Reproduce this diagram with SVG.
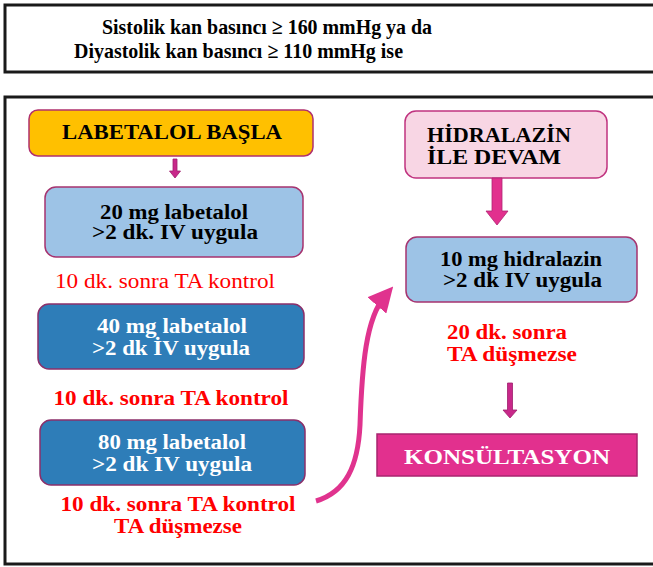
<svg xmlns="http://www.w3.org/2000/svg" width="653" height="567" viewBox="0 0 653 567" font-family="'Liberation Serif', 'DejaVu Serif', 'Times New Roman', serif">
<defs>
<style>
.frame{fill:#fff;stroke:#1a1a1a;stroke-width:3}
.t{font-family:'Liberation Serif','DejaVu Serif',serif;font-weight:bold}
.blk{fill:#000}
.wht{fill:#fff}
.red{fill:#ff0000}
.nb{font-weight:normal}
.lb{fill:#9dc3e6;stroke:#a6336f;stroke-width:1.5}
.db{fill:#2e7db8;stroke:#8c2f6a;stroke-width:1.5}
.arr{fill:#c8288a;stroke:#9e1e6c;stroke-width:0.8}
</style>
<marker id="head" markerWidth="5" markerHeight="5" refX="2.5" refY="2.5" orient="auto" markerUnits="strokeWidth">
<path d="M0,0 L5,2.5 L0,5 Z" fill="#e0338e"/>
</marker>
</defs>
<rect x="0" y="0" width="653" height="567" fill="#fff"/>
<g id="header">
<rect class="frame" x="5" y="5" width="660" height="67"/>
<text class="t blk" x="102" y="34" font-size="21" textLength="330" lengthAdjust="spacingAndGlyphs">Sistolik kan basıncı ≥ 160 mmHg ya da</text>
<text class="t blk" x="74" y="58" font-size="21" textLength="329" lengthAdjust="spacingAndGlyphs">Diyastolik kan basıncı ≥ 110 mmHg ise</text>
</g>
<rect class="frame" x="5" y="97" width="660" height="467"/>
<g id="labetalol-basla">
<rect x="29" y="110" width="284" height="46" rx="9" fill="#ffc000" stroke="#b0306e" stroke-width="1.5"/>
<text class="t blk" x="172" y="139" font-size="21" text-anchor="middle" textLength="220" lengthAdjust="spacingAndGlyphs">LABETALOL BAŞLA</text>
</g>
<g id="labetalol-20">
<rect class="lb" x="45" y="187" width="258" height="70" rx="11"/>
<text class="t blk" x="174" y="219" font-size="20" text-anchor="middle" textLength="148" lengthAdjust="spacingAndGlyphs">20 mg labetalol</text>
<text class="t blk" x="175" y="239" font-size="20" text-anchor="middle" textLength="166" lengthAdjust="spacingAndGlyphs">&gt;2 dk. IV uygula</text>
</g>
<g id="kontrol-1">
<text class="t red nb" x="165" y="288" font-size="20" text-anchor="middle" textLength="220" lengthAdjust="spacingAndGlyphs">10 dk. sonra TA kontrol</text>
</g>
<g id="labetalol-40">
<rect class="db" x="38" y="304" width="266" height="65" rx="11"/>
<text class="t wht" x="172" y="333" font-size="20" text-anchor="middle" textLength="150" lengthAdjust="spacingAndGlyphs">40 mg labetalol</text>
<text class="t wht" x="171" y="355" font-size="20" text-anchor="middle" textLength="158" lengthAdjust="spacingAndGlyphs">&gt;2 dk İV uygula</text>
</g>
<g id="kontrol-2">
<text class="t red" x="171" y="405" font-size="20" text-anchor="middle" textLength="235" lengthAdjust="spacingAndGlyphs">10 dk. sonra TA kontrol</text>
</g>
<g id="labetalol-80">
<rect class="db" x="40" y="420" width="265" height="65" rx="11"/>
<text class="t wht" x="172" y="449" font-size="20" text-anchor="middle" textLength="148" lengthAdjust="spacingAndGlyphs">80 mg labetalol</text>
<text class="t wht" x="172" y="471" font-size="20" text-anchor="middle" textLength="160" lengthAdjust="spacingAndGlyphs">&gt;2 dk IV uygula</text>
</g>
<g id="kontrol-3">
<text class="t red" x="178" y="511" font-size="20" text-anchor="middle" textLength="235" lengthAdjust="spacingAndGlyphs">10 dk. sonra TA kontrol</text>
<text class="t red" x="178" y="533" font-size="20" text-anchor="middle" textLength="128" lengthAdjust="spacingAndGlyphs">TA düşmezse</text>
</g>
<g id="hidralazin-devam">
<rect x="405" y="111" width="202" height="67" rx="11" fill="#f8d6e4" stroke="#c0337f" stroke-width="1.5"/>
<text class="t blk" x="427" y="142" font-size="20" textLength="144" lengthAdjust="spacingAndGlyphs">HİDRALAZİN</text>
<text class="t blk" x="427" y="164" font-size="20" textLength="134" lengthAdjust="spacingAndGlyphs">İLE DEVAM</text>
</g>
<g id="hidralazin-10">
<rect class="lb" x="406" y="237" width="231" height="65" rx="11"/>
<text class="t blk" x="440" y="266" font-size="20" textLength="162" lengthAdjust="spacingAndGlyphs">10 mg hidralazin</text>
<text class="t blk" x="443" y="287" font-size="20" textLength="159" lengthAdjust="spacingAndGlyphs">&gt;2 dk IV uygula</text>
</g>
<g id="kontrol-4">
<text class="t red" x="447" y="339" font-size="20" textLength="120" lengthAdjust="spacingAndGlyphs">20 dk. sonra</text>
<text class="t red" x="447" y="361" font-size="20" textLength="130" lengthAdjust="spacingAndGlyphs">TA düşmezse</text>
</g>
<g id="konsultasyon">
<rect x="377" y="434" width="260" height="42" fill="#e2308e" stroke="#a8246f" stroke-width="1.5"/>
<text class="t wht" x="507" y="464" font-size="22" text-anchor="middle" textLength="206" lengthAdjust="spacingAndGlyphs">KONSÜLTASYON</text>
</g>
<g id="connectors">
<path class="arr" d="M173,159 h4 v12 h3.5 l-5.5,7 l-5.5,-7 h3.5 z"/>
<path d="M492,178 h10 v33 h6 l-11,14 l-11,-14 h6 z" fill="#e2308e" stroke="#b02573" stroke-width="0.8"/>
<path class="arr" d="M507.5,383 h5 v27 h4.5 l-7,8 l-7,-8 h4.5 z"/>
<path d="M316,501 C346,492 358,466 360,425 C362,365 366,318 385,296" fill="none" stroke="#e0338e" stroke-width="5" marker-end="url(#head)"/>
</g>
</svg>
